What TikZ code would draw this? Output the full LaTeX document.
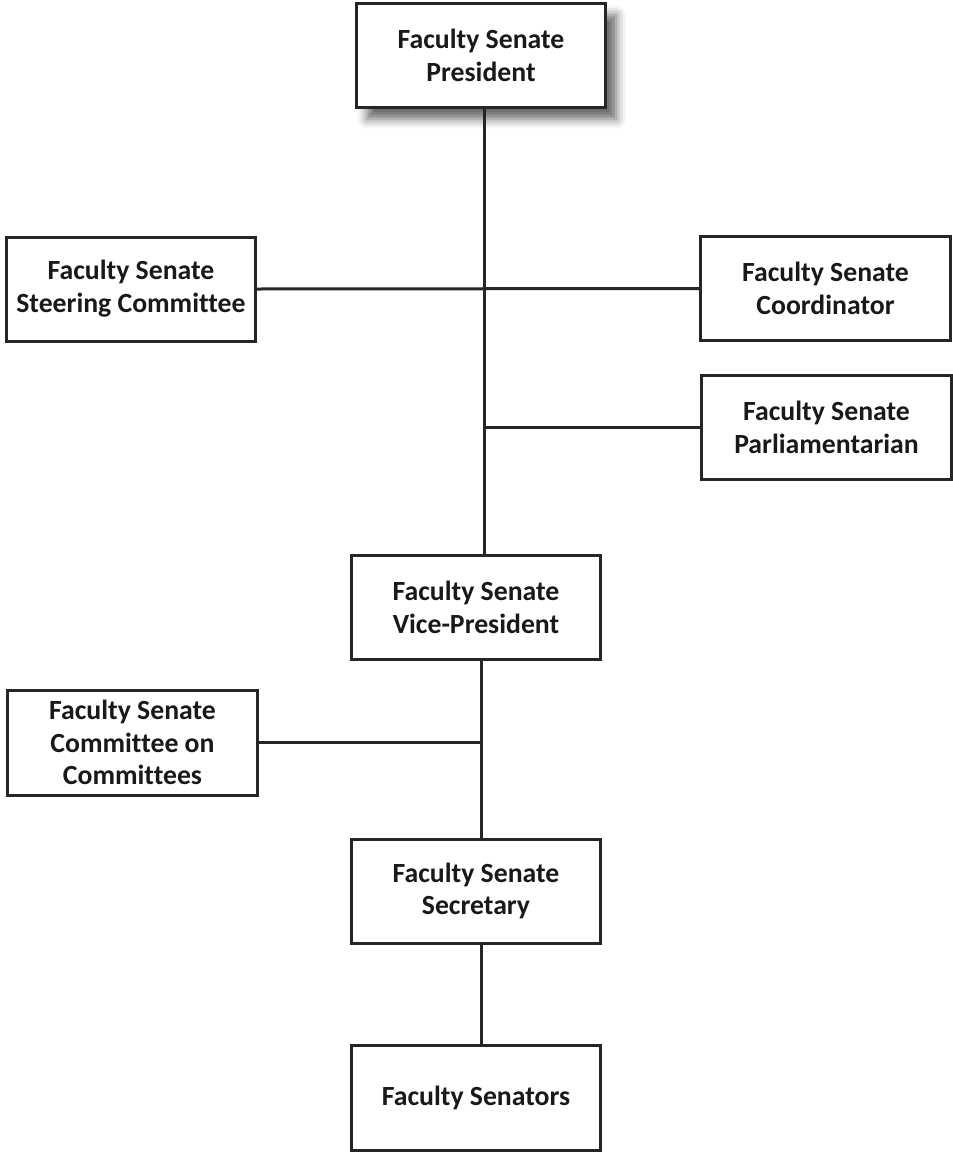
\documentclass[tikz,border=0pt]{standalone}
\usepackage{fontspec}
\setmainfont[Ligatures=NoCommon]{Carlito}
\usetikzlibrary{shadows.blur}

\tikzset{
	post/.style={draw=black!85, line width=2.25pt, fill=white, align=center,
		minimum width=187pt, minimum height=78pt, inner sep=2pt,
		text=black!90, font=\fontsize{20.8}{24.6}\selectfont\bfseries},
	link/.style={draw=black!85, line width=2.25pt}
}

\begin{document}
\begin{tikzpicture}[x=0.75pt,y=-0.75pt]
	\useasboundingbox (0,0) rectangle (953,1153);
	\node [post, blur shadow={shadow xshift=8pt, shadow yshift=-9pt, shadow blur radius=7pt, shadow opacity=60}] (pres) at (481,55) {Faculty Senate\\President};
	\node [post] (steer) at (131,289) {Faculty Senate\\Steering Committee};
	\node [post] (coord) at (825.5,288.5) {Faculty Senate\\Coordinator};
	\node [post] (parl) at (826.5,427) {Faculty Senate\\Parliamentarian};
	\node [post] (vp) at (476,607) {Faculty Senate\\Vice-President};
	\node [post, minimum height=78.75pt] (coc) at (132.5,742.5) {Faculty Senate\\Committee on\\Committees};
	\node [post] (sec) at (476,891) {Faculty Senate\\Secretary};
	\node [post, minimum height=78.75pt] (sen) at (476,1097.5) {Faculty Senators};

	\coordinate (top) at ([xshift=2.6pt]pres.south);
	\coordinate (mid) at ([xshift=3.75pt]vp.south);
	\draw [link] (top) -- (top |- vp.north);
	\draw [link] (steer.east) -- (coord.west);
	\draw [link] (parl.west) -- (parl.west -| top);
	\draw [link] (mid) -- (mid |- sec.north);
	\draw [link] (coc.east) -- (coc.east -| mid);
	\draw [link] (sec.south -| mid) -- (sen.north -| mid);
\end{tikzpicture}
\end{document}
